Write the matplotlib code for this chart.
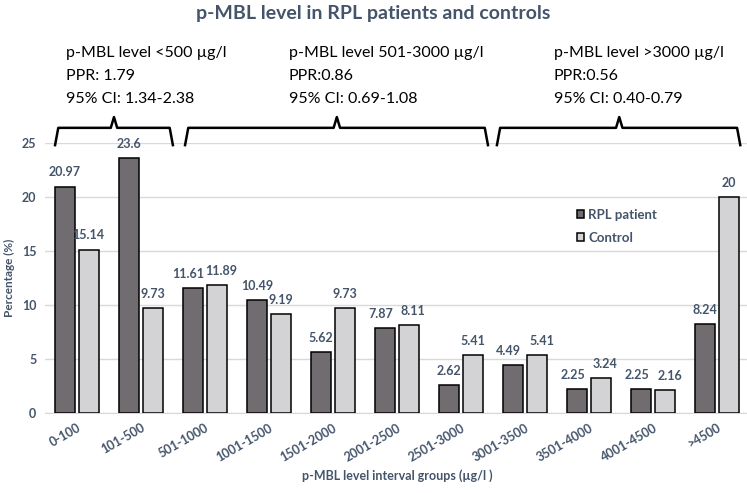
import numpy as np
import matplotlib.pyplot as plt

# data
groups = ["0-100", "101-500", "501-1000", "1001-1500", "1501-2000", "2001-2500",
          "2501-3000", "3001-3500", "3501-4000", "4001-4500", ">4500"]
rpl = [20.97, 23.6, 11.61, 10.49, 5.62, 7.87, 2.62, 4.49, 2.25, 2.25, 8.24]
control = [15.14, 9.73, 11.89, 9.19, 9.73, 8.11, 5.41, 5.41, 3.24, 2.16, 20]
rpl_labels = ["20.97", "23.6", "11.61", "10.49", "5.62", "7.87", "2.62", "4.49", "2.25", "2.25", "8.24"]
control_labels = ["15.14", "9.73", "11.89", "9.19", "9.73", "8.11", "5.41", "5.41", "3.24", "2.16", "20"]

brace_texts = [
    "p-MBL level <500 \u00b5g/l\nPPR: 1.79\n95% CI: 1.34-2.38",
    "p-MBL level 501-3000 \u00b5g/l\nPPR:0.86\n95% CI: 0.69-1.08",
    "p-MBL level >3000 \u00b5g/l\nPPR:0.56\n95% CI: 0.40-0.79",
]
# brace spans in group index units (left, right, tip) and text start
brace_spans = [(-0.34, 1.50, 0.58), (1.69, 6.42, 4.06), (6.56, 10.36, 8.47)]
text_x = [-0.17, 3.31, 7.45]

label_col = "#44546a"
dark = "#716c6f"
light = "#d3d3d5"

plt.rcParams['font.family'] = ['Lato', 'DejaVu Sans']

fig = plt.figure(figsize=(7.47, 4.93), dpi=100)
ax = fig.add_axes([0.060, 0.162, 0.943, 0.548])

x = np.arange(len(groups))
w = 0.31
off = 0.185
ax.bar(x - off, rpl, w, color=dark, edgecolor="black", linewidth=1.1, label="RPL patient", zorder=3)
ax.bar(x + off, control, w, color=light, edgecolor="black", linewidth=1.1, label="Control", zorder=3)

# labels pushed apart a little where the two bars are about the same height
for i in range(len(groups)):
    nudge = 0.07 if abs(rpl[i] - control[i]) < 1.0 else 0.0
    ax.text(x[i] - off - nudge, rpl[i] + 0.75, rpl_labels[i], ha="center", va="bottom",
            fontsize=9, fontweight="bold", color=label_col)
    ax.text(x[i] + off + nudge, control[i] + 0.75, control_labels[i], ha="center", va="bottom",
            fontsize=9, fontweight="bold", color=label_col)

ax.set_xlim(-0.5, 10.5)
ax.set_ylim(0, 25)
ax.set_yticks([0, 5, 10, 15, 20, 25])
ax.set_xticks(x)
ax.set_xticklabels(groups, rotation=30, ha="right", rotation_mode="anchor")
ax.tick_params(axis="both", length=0, labelsize=9, labelcolor=label_col, pad=6)
for t in ax.get_xticklabels() + ax.get_yticklabels():
    t.set_fontweight("bold")
ax.grid(axis="y", color="#d9d9d9", linewidth=1, zorder=0)
for s in ["left", "right", "top"]:
    ax.spines[s].set_visible(False)
ax.spines["bottom"].set_color("#d9d9d9")

ax.set_ylabel("Percentage (%)", fontsize=8.5, fontweight="bold", color=label_col, labelpad=5)
ax.set_xlabel("p-MBL level interval groups (\u00b5g/l )", fontsize=9, fontweight="bold",
              color=label_col, labelpad=4)

leg = ax.legend(loc="upper left", bbox_to_anchor=(0.738, 0.80), frameon=False, fontsize=9.5,
                handlelength=0.55, handleheight=0.55, handletextpad=0.35, labelspacing=0.85)
for t in leg.get_texts():
    t.set_color(label_col)
    t.set_fontweight("bold")

# curly braces above the plot
y0, y1, y2 = 24.8, 26.4, 27.4
for (l, r, tip), tx, txt in zip(brace_spans, text_x, brace_texts):
    ax.plot([l, l + 0.05, tip - 0.05, tip, tip + 0.05, r - 0.05, r],
            [y0, y1, y1, y2, y1, y1, y0], color="black", lw=1.8, clip_on=False,
            solid_joinstyle="round")
    ax.text(tx, 34.0, txt, ha="left", va="top", fontsize=11.5, color="black",
            linespacing=1.85, clip_on=False)

fig.text(0.5, 0.99, "p-MBL level in RPL patients and controls", ha="center", va="top",
         fontsize=14, fontweight="bold", color=label_col)

fig.savefig("out.png", dpi=100)
